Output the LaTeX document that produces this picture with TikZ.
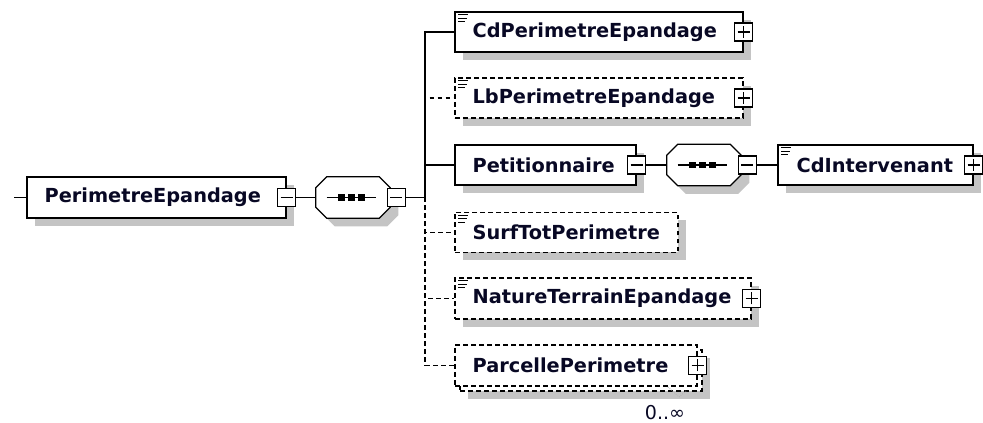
\documentclass[tikz,border=0pt]{standalone}
\usepackage{fontspec}
\setmainfont{DejaVu Sans}
\usetikzlibrary{shadows,calc}
\definecolor{shadowgray}{RGB}{196,196,196}
\definecolor{txt}{RGB}{8,8,36}
\newcommand\seqoct[1]{%
  \draw[shad, fill=white, line width=1pt]
    ($(#1.north west)+(11,0)$) -- ($(#1.north east)+(-11,0)$) -- ($(#1.north east)+(0,11)$) --
    ($(#1.south east)+(0,-11)$) -- ($(#1.south east)+(-11,0)$) -- ($(#1.south west)+(11,0)$) --
    ($(#1.south west)+(0,-11)$) -- ($(#1.north west)+(0,11)$) -- cycle;
  \draw[line width=1pt] ($(#1.west)+(11,0)$) -- ($(#1.west)+(60,0)$);
  \foreach \dx in {25.5,35.5,45.5}
    \fill ($(#1.west)+(\dx-3.3,-3.3)$) rectangle ($(#1.west)+(\dx+3.3,3.3)$);
}
\newcommand\ticon[1]{%
  \draw[line width=0.8pt, black]
    ($(#1.north west)+(4,3.5)$) -- ++(10,0)
    ($(#1.north west)+(4,7)$) -- ++(9,0)
    ($(#1.north west)+(4,10.5)$) -- ++(7,0);
}
\begin{document}
\begin{tikzpicture}[x=0.75pt,y=-0.75pt,
  shad/.style={general shadow={fill=shadowgray, shadow xshift=6pt, shadow yshift=-6pt}},
  elbox/.style={draw=black, fill=white, line width=1pt, inner sep=0pt, minimum height=30pt},
  optl/.style={dash pattern=on 3.4pt off 2.6pt},
  lab/.style={anchor=west, inner sep=0pt, font=\fontsize{14.5}{17}\selectfont\bfseries, text=txt},
  btn/.style={draw=black, fill=white, line width=1pt, inner sep=0pt, minimum size=13.5pt},
  btnplus/.style={btn, path picture={\draw[line width=1pt]
      ([xshift=-4.5pt]path picture bounding box.center) -- ([xshift=4.5pt]path picture bounding box.center)
      ([yshift=-4.5pt]path picture bounding box.center) -- ([yshift=4.5pt]path picture bounding box.center);}},
  btnminus/.style={btn, path picture={\draw[line width=1pt]
      ([xshift=-4.5pt]path picture bounding box.center) -- ([xshift=4.5pt]path picture bounding box.center);}},
  seqbox/.style={inner sep=0pt, minimum width=55.5pt, minimum height=30.75pt},
  conn/.style={line width=1pt, black}
]
\useasboundingbox (0,0) rectangle (983,423);

% root
\coordinate (start) at (14,197.5);
\node[elbox, shad, minimum width=194.25pt, minimum height=30.75pt] (pe) at (156.5,197.5) {};
\node[lab] (peT) at ([xshift=13.5pt]pe.west) {PerimetreEpandage};
\node[btnminus] (peB) at (pe.east) {};
\node[seqbox] (seq1) at (353,197.5) {};
\seqoct{seq1}
\node[btnminus] (seq1B) at ([xshift=4.5pt]seq1.east) {};
\coordinate (bus) at (425,197.5);

% children
\node[elbox, shad, minimum width=216pt] (cd) at (599,32) {};
\node[lab] (cdT) at ([xshift=13.5pt]cd.west) {CdPerimetreEpandage};
\node[btnplus] (cdB) at (cd.east) {};
\ticon{cd}

\node[elbox, optl, shad, minimum width=216pt] (lb) at (599,98) {};
\node[lab] (lbT) at ([xshift=13.5pt]lb.west) {LbPerimetreEpandage};
\node[btnplus] (lbB) at (lb.east) {};
\ticon{lb}

\node[elbox, shad, minimum width=135.75pt] (pet) at (545.5,165) {};
\node[lab] (petT) at ([xshift=13.5pt]pet.west) {Petitionnaire};
\node[btnminus] (petB) at (pet.east) {};
\node[seqbox] (seq2) at (704,165) {};
\seqoct{seq2}
\node[btnminus] (seq2B) at ([xshift=4.5pt]seq2.east) {};

\node[elbox, shad, minimum width=146.25pt] (cdi) at (875.5,165) {};
\node[lab] (cdiT) at ([xshift=14.25pt]cdi.west) {CdIntervenant};
\node[btnplus] (cdiB) at (cdi.east) {};
\ticon{cdi}

\node[elbox, optl, shad, minimum width=167.25pt] (surf) at (566.5,232.5) {};
\node[lab] (surfT) at ([xshift=13.5pt]surf.west) {SurfTotPerimetre};
\ticon{surf}

\node[elbox, optl, shad, minimum width=222pt, minimum height=30.75pt] (nat) at (603,298.5) {};
\node[lab] (natT) at ([xshift=13.5pt]nat.west) {NatureTerrainEpandage};
\node[btnplus] (natB) at (nat.east) {};
\ticon{nat}

\node[elbox, optl, shad, minimum width=181.5pt, minimum height=30.75pt] (parback) at (581,370.5) {};
\node[elbox, optl, minimum width=181.5pt, minimum height=30.75pt] (par) at (576,365.5) {};
\node[lab] (parT) at ([xshift=13.5pt]par.west) {ParcellePerimetre};
\node[btnplus] (parB) at (par.east) {};
\node[font=\fontsize{14.3}{17}\selectfont, text=txt, inner sep=0pt] (mult) at (665,413) {0..∞};
\coordinate (mk1) at (668,387);
\coordinate (mk2) at (679,397);
\coordinate (mk3) at (686,391);
\draw[gray!60, line width=0.6pt, densely dotted] (mk1) -- (mk2) -- (mk3);

% connectors
\draw[conn] (start) -- (pe.west);
\draw[conn] (peB.east) -- (seq1.west);
\draw[conn] (seq1B.east) -- (bus);
\draw[conn, optl] (bus) |- (lb.west);
\draw[conn, optl] (bus) |- (surf.west);
\draw[conn, optl] (bus) |- (nat.west);
\draw[conn, optl] (bus) |- (par.west);
\draw[conn] (bus) |- (cd.west);
\draw[conn] (bus) |- (pet.west);
\draw[conn] (petB.east) -- (seq2.west);
\draw[conn] (seq2B.east) -- (cdi.west);
\end{tikzpicture}
\end{document}
